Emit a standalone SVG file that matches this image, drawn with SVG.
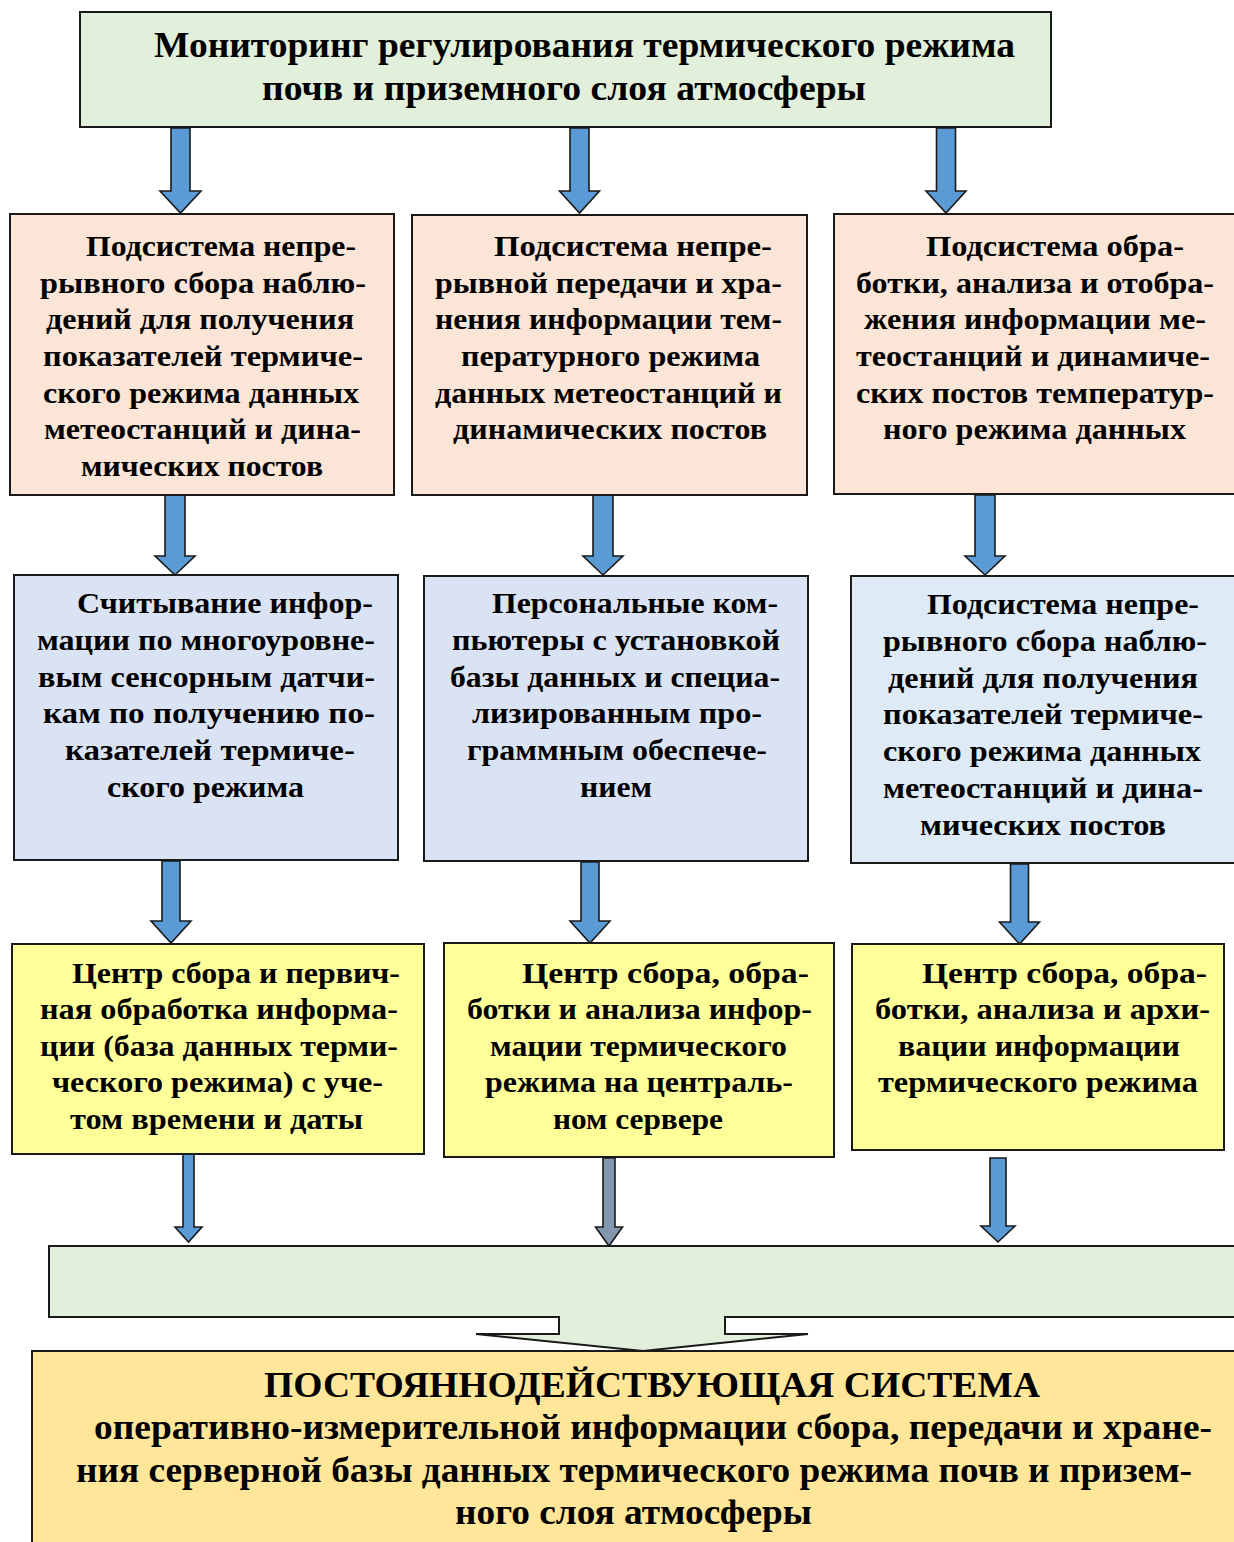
<svg xmlns="http://www.w3.org/2000/svg" width="1234" height="1542" viewBox="0 0 1234 1542">
<style>
.box{stroke:#1a1a1a;stroke-width:2}
.green{fill:#E2EFDA}
.peach{fill:#FBE5D6}
.blue{fill:#DAE3F3}
.blue2{fill:#DEEBF7}
.yellow{fill:#FFFF99}
.orange{fill:#FFE699}
.arr{fill:#5B9BD5;stroke:#1a1a1a;stroke-width:1.6;stroke-linejoin:miter}
.arrg{fill:#8497B0;stroke:#1a1a1a;stroke-width:1.6}
text{font-family:"Liberation Serif","Times New Roman",serif;font-weight:bold;fill:#000}
.t{font-size:29px}
.h{font-size:35px}
.b{font-size:36px}
</style>
<rect width="1234" height="1542" fill="#ffffff"/>
<g id="connectors">
<path class="arr" d="M171,128H190V191H201L180.5,213L160,191H171Z"/>
<path class="arr" d="M570,128H589V191H599.5L579.5,213L559.5,191H570Z"/>
<path class="arr" d="M936.5,128H955.5V191H966L946,213L926,191H936.5Z"/>
<path class="arr" d="M165,495H185V556H195L175,575L155,556H165Z"/>
<path class="arr" d="M593,495H613V556H623L603,575L583,556H593Z"/>
<path class="arr" d="M975,495H995V556H1005L985,575L965,556H975Z"/>
<path class="arr" d="M162,861H180V921H191L171,943L151,921H162Z"/>
<path class="arr" d="M581,862H599V921H610L590,943L570,921H581Z"/>
<path class="arr" d="M1010.5,864H1028.5V922H1039.5L1019.5,944L999.5,922H1010.5Z"/>
<path class="arr" d="M183,1154H194V1227H202L188.5,1242L175,1227H183Z"/>
<path class="arrg" d="M603,1158H615V1227H622.5L609,1246L595.5,1227H603Z"/>
<path class="arr" d="M990,1158H1006V1226H1015L998,1242L981,1226H990Z"/>
</g>
<g id="n-top">
<rect class="box green" x="80" y="12" width="971" height="115"/>
<text class="h" x="154" y="57" textLength="861" lengthAdjust="spacingAndGlyphs">Мониторинг регулирования термического режима</text>
<text class="h" x="262" y="100" textLength="604" lengthAdjust="spacingAndGlyphs">почв и приземного слоя атмосферы</text>
</g>
<g id="n-a">
<rect class="box peach" x="10" y="214" width="384" height="281"/>
<text class="t" x="86" y="256" textLength="270" lengthAdjust="spacingAndGlyphs">Подсистема непре-</text>
<text class="t" x="40" y="293" textLength="326" lengthAdjust="spacingAndGlyphs">рывного сбора наблю-</text>
<text class="t" x="46" y="329" textLength="308" lengthAdjust="spacingAndGlyphs">дений для получения</text>
<text class="t" x="43" y="366" textLength="320" lengthAdjust="spacingAndGlyphs">показателей термиче-</text>
<text class="t" x="43" y="403" textLength="316" lengthAdjust="spacingAndGlyphs">ского режима данных</text>
<text class="t" x="44" y="439" textLength="317" lengthAdjust="spacingAndGlyphs">метеостанций и дина-</text>
<text class="t" x="81" y="476" textLength="242" lengthAdjust="spacingAndGlyphs">мических постов</text>
</g>
<g id="n-b">
<rect class="box peach" x="412" y="215" width="395" height="280"/>
<text class="t" x="494" y="256" textLength="278" lengthAdjust="spacingAndGlyphs">Подсистема непре-</text>
<text class="t" x="435" y="293" textLength="347" lengthAdjust="spacingAndGlyphs">рывной передачи и хра-</text>
<text class="t" x="435" y="329" textLength="347" lengthAdjust="spacingAndGlyphs">нения информации тем-</text>
<text class="t" x="461" y="366" textLength="299" lengthAdjust="spacingAndGlyphs">пературного режима</text>
<text class="t" x="435" y="403" textLength="347" lengthAdjust="spacingAndGlyphs">данных метеостанций и</text>
<text class="t" x="453" y="439" textLength="314" lengthAdjust="spacingAndGlyphs">динамических постов</text>
</g>
<g id="n-c">
<rect class="box peach" x="834" y="214" width="420" height="280"/>
<text class="t" x="926" y="256" textLength="258" lengthAdjust="spacingAndGlyphs">Подсистема обра-</text>
<text class="t" x="856" y="293" textLength="358" lengthAdjust="spacingAndGlyphs">ботки, анализа и отобра-</text>
<text class="t" x="864" y="329" textLength="342" lengthAdjust="spacingAndGlyphs">жения информации ме-</text>
<text class="t" x="856" y="366" textLength="354" lengthAdjust="spacingAndGlyphs">теостанций и динамиче-</text>
<text class="t" x="856" y="403" textLength="358" lengthAdjust="spacingAndGlyphs">ских постов температур-</text>
<text class="t" x="883" y="439" textLength="303" lengthAdjust="spacingAndGlyphs">ного режима данных</text>
</g>
<g id="n-d">
<rect class="box blue" x="14" y="575" width="384" height="285"/>
<text class="t" x="77" y="613" textLength="296" lengthAdjust="spacingAndGlyphs">Считывание инфор-</text>
<text class="t" x="37" y="650" textLength="338" lengthAdjust="spacingAndGlyphs">мации по многоуровне-</text>
<text class="t" x="38" y="687" textLength="337" lengthAdjust="spacingAndGlyphs">вым сенсорным датчи-</text>
<text class="t" x="43" y="723" textLength="332" lengthAdjust="spacingAndGlyphs">кам по получению по-</text>
<text class="t" x="65" y="760" textLength="290" lengthAdjust="spacingAndGlyphs">казателей термиче-</text>
<text class="t" x="107" y="797" textLength="197" lengthAdjust="spacingAndGlyphs">ского режима</text>
</g>
<g id="n-e">
<rect class="box blue" x="424" y="576" width="384" height="285"/>
<text class="t" x="492" y="613" textLength="286" lengthAdjust="spacingAndGlyphs">Персональные ком-</text>
<text class="t" x="452" y="650" textLength="328" lengthAdjust="spacingAndGlyphs">пьютеры с установкой</text>
<text class="t" x="450" y="687" textLength="330" lengthAdjust="spacingAndGlyphs">базы данных и специа-</text>
<text class="t" x="472" y="723" textLength="290" lengthAdjust="spacingAndGlyphs">лизированным про-</text>
<text class="t" x="467" y="760" textLength="300" lengthAdjust="spacingAndGlyphs">граммным обеспече-</text>
<text class="t" x="580" y="797" textLength="72" lengthAdjust="spacingAndGlyphs">нием</text>
</g>
<g id="n-f">
<rect class="box blue2" x="851" y="576" width="404" height="287"/>
<text class="t" x="927" y="614" textLength="272" lengthAdjust="spacingAndGlyphs">Подсистема непре-</text>
<text class="t" x="883" y="651" textLength="324" lengthAdjust="spacingAndGlyphs">рывного сбора наблю-</text>
<text class="t" x="888" y="688" textLength="310" lengthAdjust="spacingAndGlyphs">дений для получения</text>
<text class="t" x="883" y="724" textLength="320" lengthAdjust="spacingAndGlyphs">показателей термиче-</text>
<text class="t" x="883" y="761" textLength="318" lengthAdjust="spacingAndGlyphs">ского режима данных</text>
<text class="t" x="883" y="798" textLength="320" lengthAdjust="spacingAndGlyphs">метеостанций и дина-</text>
<text class="t" x="920" y="835" textLength="246" lengthAdjust="spacingAndGlyphs">мических постов</text>
</g>
<g id="n-g">
<rect class="box yellow" x="12" y="944" width="412" height="210"/>
<text class="t" x="72" y="983" textLength="328" lengthAdjust="spacingAndGlyphs">Центр сбора и первич-</text>
<text class="t" x="40" y="1019" textLength="358" lengthAdjust="spacingAndGlyphs">ная обработка информа-</text>
<text class="t" x="40" y="1056" textLength="358" lengthAdjust="spacingAndGlyphs">ции (база данных терми-</text>
<text class="t" x="52" y="1092" textLength="331" lengthAdjust="spacingAndGlyphs">ческого режима) с уче-</text>
<text class="t" x="70" y="1129" textLength="293" lengthAdjust="spacingAndGlyphs">том времени и даты</text>
</g>
<g id="n-h">
<rect class="box yellow" x="444" y="943" width="390" height="214"/>
<text class="t" x="522" y="983" textLength="287" lengthAdjust="spacingAndGlyphs">Центр сбора, обра-</text>
<text class="t" x="467" y="1019" textLength="345" lengthAdjust="spacingAndGlyphs">ботки и анализа инфор-</text>
<text class="t" x="490" y="1056" textLength="297" lengthAdjust="spacingAndGlyphs">мации термического</text>
<text class="t" x="485" y="1092" textLength="308" lengthAdjust="spacingAndGlyphs">режима на централь-</text>
<text class="t" x="553" y="1129" textLength="170" lengthAdjust="spacingAndGlyphs">ном сервере</text>
</g>
<g id="n-i">
<rect class="box yellow" x="852" y="944" width="372" height="206"/>
<text class="t" x="922" y="983" textLength="285" lengthAdjust="spacingAndGlyphs">Центр сбора, обра-</text>
<text class="t" x="875" y="1019" textLength="335" lengthAdjust="spacingAndGlyphs">ботки, анализа и архи-</text>
<text class="t" x="898" y="1056" textLength="282" lengthAdjust="spacingAndGlyphs">вации информации</text>
<text class="t" x="878" y="1092" textLength="320" lengthAdjust="spacingAndGlyphs">термического режима</text>
</g>
<g id="n-merge">
<path class="box green" d="M49,1246H1240V1317H725V1334H808L643,1351L476,1334H559V1317H49Z"/>
</g>
<g id="n-system">
<rect class="box orange" x="32" y="1351" width="1210" height="200"/>
<text class="b" x="264" y="1397" textLength="776" lengthAdjust="spacingAndGlyphs">ПОСТОЯННОДЕЙСТВУЮЩАЯ СИСТЕМА</text>
<text class="b" x="94" y="1439" textLength="1118" lengthAdjust="spacingAndGlyphs">оперативно-измерительной информации сбора, передачи и хране-</text>
<text class="b" x="76" y="1482" textLength="1116" lengthAdjust="spacingAndGlyphs">ния серверной базы данных термического режима почв и призем-</text>
<text class="b" x="455" y="1524" textLength="357" lengthAdjust="spacingAndGlyphs">ного слоя атмосферы</text>
</g>
</svg>
